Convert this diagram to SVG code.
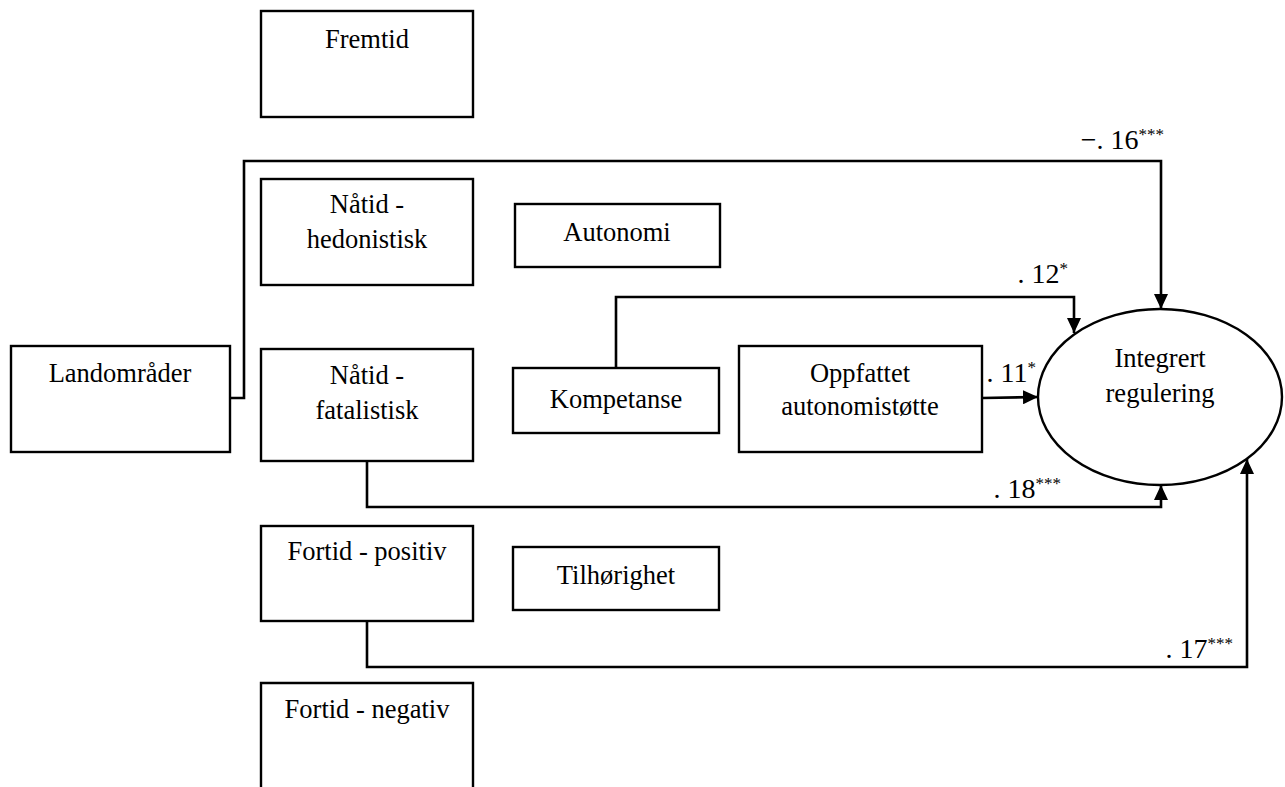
<svg xmlns="http://www.w3.org/2000/svg" width="1285" height="787" viewBox="0 0 1285 787">
<defs>
<style>
.box{fill:#fff;stroke:#000;stroke-width:2.4}
.t{font-family:"Liberation Serif","Times New Roman",serif;font-size:26.5px;fill:#000;text-anchor:middle}
.n{font-family:"Liberation Serif","Times New Roman",serif;font-size:28px;fill:#000;text-anchor:end}
.s{font-size:17px}
.c{fill:none;stroke:#000;stroke-width:2.6;marker-end:url(#ah)}
</style>
<marker id="ah" markerUnits="userSpaceOnUse" markerWidth="16" markerHeight="14" refX="15" refY="7" orient="auto">
<path d="M0,0 L15,7 L0,14 z" fill="#000"/>
</marker>
</defs>
<rect width="1285" height="787" fill="#fff"/>
<g id="connectors">
<path class="c" d="M230,398 H244 V161 H1161 V309"/>
<path class="c" d="M616,367 V297 H1074 V333"/>
<path class="c" d="M982,398 L1038,397"/>
<path class="c" d="M367,461 V507 H1161 V485"/>
<path class="c" d="M367,621 V667 H1247 V459"/>
</g>
<g id="fremtid"><rect class="box" x="261" y="11" width="212" height="106"/><text class="t" x="367" y="48">Fremtid</text></g>
<g id="natid-hedonistisk"><rect class="box" x="261" y="179" width="212" height="106"/><text class="t" x="367" y="213">Nåtid -</text><text class="t" x="367" y="248">hedonistisk</text></g>
<g id="natid-fatalistisk"><rect class="box" x="261" y="349" width="212" height="112"/><text class="t" x="367" y="384">Nåtid -</text><text class="t" x="367" y="419">fatalistisk</text></g>
<g id="fortid-positiv"><rect class="box" x="261" y="526" width="212" height="95"/><text class="t" x="367" y="560">Fortid - positiv</text></g>
<g id="fortid-negativ"><path class="box" d="M261,800 V683 H473 V800"/><text class="t" x="367" y="718">Fortid - negativ</text></g>
<g id="landomrader"><rect class="box" x="11" y="346" width="219" height="106"/><text class="t" x="120" y="382">Landområder</text></g>
<g id="autonomi"><rect class="box" x="515" y="204" width="205" height="63"/><text class="t" x="617" y="241">Autonomi</text></g>
<g id="kompetanse"><rect class="box" x="513" y="368" width="206" height="65"/><text class="t" x="616" y="408">Kompetanse</text></g>
<g id="tilhorighet"><rect class="box" x="513" y="547" width="206" height="63"/><text class="t" x="616" y="584">Tilhørighet</text></g>
<g id="oppfattet"><rect class="box" x="739" y="346" width="243" height="106"/><text class="t" x="860" y="382">Oppfattet</text><text class="t" x="860" y="415">autonomistøtte</text></g>
<g id="integrert"><ellipse cx="1160" cy="397" rx="122" ry="88" fill="#fff" stroke="#000" stroke-width="2.4"/><text class="t" x="1160" y="367">Integrert</text><text class="t" x="1160" y="402">regulering</text></g>
<g id="labels">
<text class="n" x="1164" y="149">−. 16<tspan class="s" dy="-9">***</tspan></text>
<text class="n" x="1068" y="283">. 12<tspan class="s" dy="-9">*</tspan></text>
<text class="n" x="1036" y="382">. 11<tspan class="s" dy="-9">*</tspan></text>
<text class="n" x="1061" y="498">. 18<tspan class="s" dy="-9">***</tspan></text>
<text class="n" x="1233" y="658">. 17<tspan class="s" dy="-9">***</tspan></text>
</g>
</svg>
